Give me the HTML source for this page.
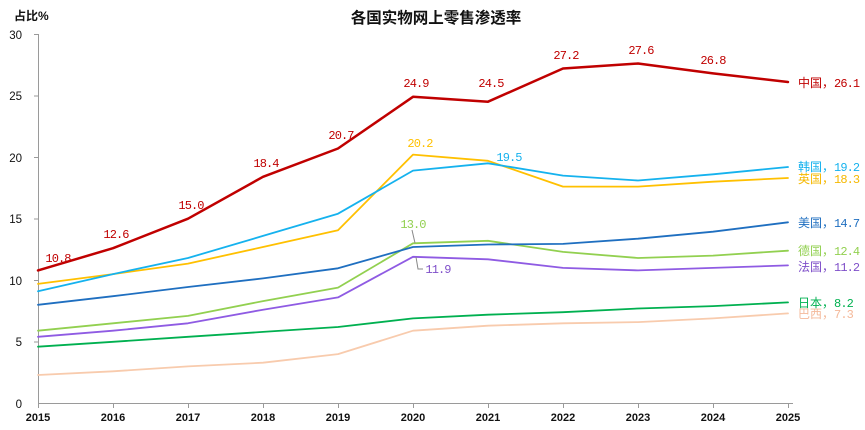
<!DOCTYPE html>
<html><head><meta charset="utf-8"><style>
html,body{margin:0;padding:0;background:#fff;}
svg{display:block;}
.cj{font-family:"Liberation Sans","Noto Sans CJK SC",sans-serif;}
.num{font-family:"Liberation Mono","Noto Sans CJK SC",monospace;font-size:12px;letter-spacing:-0.9px;}
.lab{font-family:"Noto Sans CJK SC","Liberation Sans",sans-serif;font-size:12px;}
</style></head><body>
<svg width="865" height="430" viewBox="0 0 865 430" xmlns="http://www.w3.org/2000/svg">
<rect width="865" height="430" fill="#fff"/>
<text x="436" y="23" text-anchor="middle" class="cj" font-size="15.5" font-weight="bold" fill="#111">各国实物网上零售渗透率</text>
<text x="14" y="20" class="cj" font-size="12" font-weight="bold" fill="#111">占比%</text>
<!-- axes -->
<g stroke="#9a9a9a" stroke-width="1" fill="none">
<line x1="38.5" y1="34" x2="38.5" y2="403.5"/>
<line x1="38" y1="403.5" x2="793" y2="403.5"/>
<line x1="34" y1="34.5" x2="38" y2="34.5"/>
<line x1="34" y1="96" x2="38" y2="96"/>
<line x1="34" y1="157.5" x2="38" y2="157.5"/>
<line x1="34" y1="219" x2="38" y2="219"/>
<line x1="34" y1="280.5" x2="38" y2="280.5"/>
<line x1="34" y1="342" x2="38" y2="342"/>
<line x1="38.5" y1="403" x2="38.5" y2="408"/>
<line x1="113.5" y1="403" x2="113.5" y2="408"/>
<line x1="188.5" y1="403" x2="188.5" y2="408"/>
<line x1="263.5" y1="403" x2="263.5" y2="408"/>
<line x1="338.5" y1="403" x2="338.5" y2="408"/>
<line x1="413.5" y1="403" x2="413.5" y2="408"/>
<line x1="488.5" y1="403" x2="488.5" y2="408"/>
<line x1="563.5" y1="403" x2="563.5" y2="408"/>
<line x1="638.5" y1="403" x2="638.5" y2="408"/>
<line x1="713.5" y1="403" x2="713.5" y2="408"/>
<line x1="788.5" y1="403" x2="788.5" y2="408"/>
</g>
<g font-family="Liberation Sans, sans-serif" font-size="11.5" fill="#111" text-anchor="end">
<text x="22" y="39">30</text>
<text x="22" y="100">25</text>
<text x="22" y="162">20</text>
<text x="22" y="223">15</text>
<text x="22" y="285">10</text>
<text x="22" y="346">5</text>
<text x="22" y="408">0</text>
</g>
<g font-family="Liberation Sans, sans-serif" font-size="11" font-weight="bold" fill="#111" text-anchor="middle">
<text x="38" y="421">2015</text>
<text x="113" y="421">2016</text>
<text x="188" y="421">2017</text>
<text x="263" y="421">2018</text>
<text x="338" y="421">2019</text>
<text x="413" y="421">2020</text>
<text x="488" y="421">2021</text>
<text x="563" y="421">2022</text>
<text x="638" y="421">2023</text>
<text x="713" y="421">2024</text>
<text x="788" y="421">2025</text>
</g>
<!-- series -->
<g fill="none" stroke-linejoin="round" stroke-linecap="round">
<polyline stroke="#F8CBAD" stroke-width="1.8" points="38,375 113,371.3 188,366.4 263,362.7 338,354.1 413,330.7 488,325.7 563,323.3 638,322.1 713,318.4 788,313.4"/>
<polyline stroke="#00B050" stroke-width="1.8" points="38,346.7 113,341.8 188,336.8 263,331.9 338,327 413,318.4 488,314.7 563,312.2 638,308.5 713,306.1 788,302.4"/>
<polyline stroke="#8F5BE3" stroke-width="1.8" points="38,336.8 113,330.7 188,323.3 263,309.7 338,297.4 413,256.8 488,259.3 563,267.9 638,270.4 713,267.9 788,265.4"/>
<polyline stroke="#92D050" stroke-width="1.8" points="38,330.7 113,323.3 188,315.9 263,301.1 338,287.6 413,243.3 488,240.8 563,251.9 638,258 713,255.6 788,250.7"/>
<polyline stroke="#1F6FC0" stroke-width="1.8" points="38,304.8 113,296.2 188,287 263,278.4 338,268.3 413,247 488,244.5 563,243.9 638,238.7 713,231.7 788,222.3"/>
<polyline stroke="#FFC000" stroke-width="1.8" points="38,283.9 113,274.1 188,263.6 263,247 338,230.3 413,154.6 488,160.8 563,186.6 638,186.6 713,181.7 788,178"/>
<polyline stroke="#15B2EE" stroke-width="1.8" points="38,291.3 113,274.1 188,258 263,235.9 338,213.7 413,170.6 488,163.3 563,175.6 638,180.5 713,174.3 788,167"/>
<polyline stroke="#C00000" stroke-width="2.5" points="38,270.4 113,248.2 188,218.7 263,176.8 338,148.5 413,96.8 488,101.7 563,68.5 638,63.5 713,73.4 788,82"/>
</g>
<!-- leader lines -->
<g stroke="#888" stroke-width="1" fill="none">
<polyline points="412,230 415,243"/>
<polyline points="416,257 418,269 423,269"/>
</g>
<!-- data labels -->
<g class="num" fill="#C00000" text-anchor="middle">
<text x="58" y="262">10.8</text>
<text x="116" y="238">12.6</text>
<text x="191" y="209">15.0</text>
<text x="266" y="167">18.4</text>
<text x="341" y="139">20.7</text>
<text x="416" y="87">24.9</text>
<text x="491" y="87">24.5</text>
<text x="566" y="59">27.2</text>
<text x="641" y="54">27.6</text>
<text x="713" y="64">26.8</text>
</g>
<text x="420" y="147" class="num" fill="#FFC000" text-anchor="middle">20.2</text>
<text x="509" y="161" class="num" fill="#15B2EE" text-anchor="middle">19.5</text>
<text x="413" y="228" class="num" fill="#92D050" text-anchor="middle">13.0</text>
<text x="438" y="273" class="num" fill="#7F4FC9" text-anchor="middle">11.9</text>
<!-- end labels -->
<text x="798" y="87" class="lab" fill="#C00000">中国，<tspan class="num">26.1</tspan></text>
<text x="798" y="171" class="lab" fill="#15B2EE">韩国，<tspan class="num">19.2</tspan></text>
<text x="798" y="183" class="lab" fill="#F5B800">英国，<tspan class="num">18.3</tspan></text>
<text x="798" y="227" class="lab" fill="#1F6FC0">美国，<tspan class="num">14.7</tspan></text>
<text x="798" y="255" class="lab" fill="#92D050">德国，<tspan class="num">12.4</tspan></text>
<text x="798" y="271" class="lab" fill="#7F4FC9">法国，<tspan class="num">11.2</tspan></text>
<text x="798" y="307" class="lab" fill="#00B050">日本，<tspan class="num">8.2</tspan></text>
<text x="798" y="318" class="lab" fill="#F4B99A">巴西，<tspan class="num">7.3</tspan></text>
</svg>
</body></html>
